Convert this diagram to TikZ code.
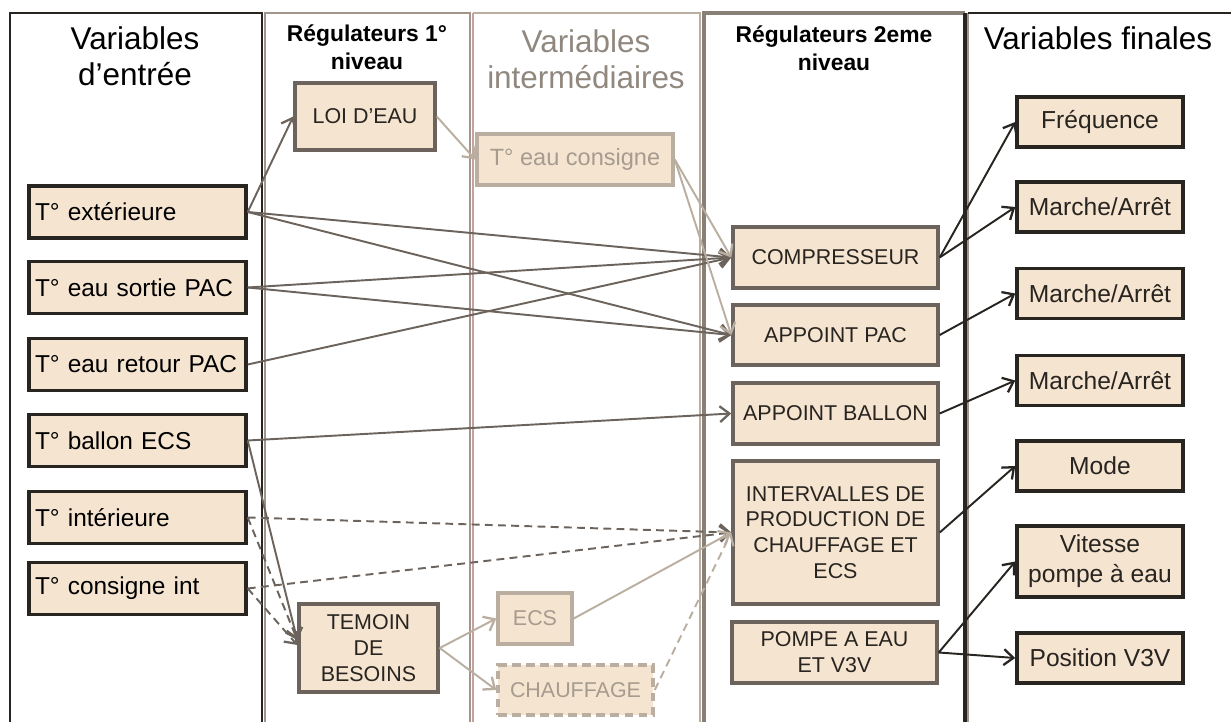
\documentclass[tikz,border=0pt]{standalone}
\usepackage{fontspec}
\setmainfont{Liberation Sans}
\usetikzlibrary{calc}
\usetikzlibrary{arrows.meta}

\definecolor{peach}{RGB}{245,228,208}
\definecolor{dark}{RGB}{40,36,32}
\definecolor{mid}{RGB}{108,100,92}
\definecolor{tan}{RGB}{186,174,160}
\definecolor{tantext}{RGB}{165,155,143}
\definecolor{colgray}{RGB}{160,150,140}
\definecolor{pinkline}{RGB}{200,160,160}

\begin{document}
\begin{tikzpicture}[x=0.02cm, y=-0.02cm,
	>={Straight Barb[length=5.5pt,width=9pt,line width=1.3pt]},
	bigtitle/.style={font=\fontsize{17.9}{21}\selectfont, align=center, anchor=base, inner sep=0pt},
	regtitle/.style={font=\bfseries\fontsize{13}{16}\selectfont, align=center, anchor=base, inner sep=0pt},
	inbox/.style={draw=dark, fill=peach, line width=2pt, minimum height=1.04cm, text width=4.1cm, align=left, inner xsep=0.12cm, inner ysep=0pt, text=black, font=\fontsize{13.9}{16}\selectfont},
	regbox/.style={draw=mid, fill=peach, line width=2pt, align=center, inner sep=0pt, text=dark, font=\fontsize{12.2}{14.7}\selectfont},
	midbox/.style={draw=tan, fill=peach, line width=2pt, align=center, inner sep=0pt, text=tantext, font=\fontsize{12.2}{14.7}\selectfont},
	outbox/.style={draw=dark, fill=peach, line width=2pt, minimum width=3.32cm, minimum height=1cm, align=center, inner sep=0pt, text=dark, font=\fontsize{14}{17}\selectfont},
	link/.style={->, draw=mid, line width=1.1pt},
	lightlink/.style={->, draw=tan, line width=1.1pt},
	outlink/.style={->, draw=dark, line width=1.1pt},
	dashlink/.style={dash pattern=on 4.5pt off 3pt}
]
	\useasboundingbox (0,0) rectangle (1231,722);

	% columns
	\draw[dark, line width=1.3pt] (10,730) -- (10,13) -- (262,13) -- (262,730);
	\draw[colgray, line width=1.3pt] (265,730) -- (265,13) -- (470,13) -- (470,730);
	\draw[pinkline, line width=1pt] (473,730) -- (473,13);
	\draw[tan, line width=1.5pt] (473,13) -- (700,13) -- (700,730);
	\draw[colgray!85!black, line width=1.8pt] (704,730) -- (704,13) -- (965,13);
	\draw[dark, line width=1.8pt] (965,13) -- (965,730);
	\draw[colgray, line width=1.5pt] (968,730) -- (968,13);
	\draw[dark, line width=1.3pt] (968,13) -- (1240,13);

	\node[bigtitle] (tin) at (135,86) {Variables\\d’entrée};
	\node[regtitle] (treg1) at (367,70) {Régulateurs 1°\\niveau};
	\node[bigtitle, text=colgray!90!black] (tmid) at (586,89) {Variables\\intermédiaires};
	\node[regtitle] (treg2) at (834,71) {Régulateurs 2eme\\niveau};
	\node[bigtitle] (tout) at (1098,50) {Variables finales};

	% entrees
	\node[inbox] (ext) at (137.5,212) {T° extérieure};
	\node[inbox] (sortie) at (137.5,287.5) {T° eau sortie PAC};
	\node[inbox] (retour) at (137.5,364.5) {T° eau retour PAC};
	\node[inbox] (ballon) at (137.5,440.5) {T° ballon ECS};
	\node[inbox] (inter) at (137.5,517.5) {T° intérieure};
	\node[inbox] (cons) at (137.5,588.5) {T° consigne int};

	% regulateurs 1
	\node[regbox, minimum width=2.8cm, minimum height=1.34cm] (loi) at (365,116.5) {LOI D’EAU};
	\node[regbox, minimum width=2.78cm, minimum height=1.76cm] (temoin) at (368.5,648) {TEMOIN\\DE\\BESOINS};

	% intermediaires
	\node[midbox, minimum width=3.92cm, minimum height=1.02cm, font=\fontsize{13.4}{16}\selectfont] (tcons) at (575,159.5) {T° eau consigne};
	\node[midbox, minimum width=1.48cm, minimum height=1.02cm] (ecs) at (535,618.5) {ECS};
	\node[midbox, dash pattern=on 5pt off 3pt, minimum width=3.1cm, minimum height=1cm] (chauf) at (575.5,690) {CHAUFFAGE};

	% regulateurs 2
	\node[regbox, minimum width=4.1cm, minimum height=1.22cm] (comp) at (835.5,257.5) {COMPRESSEUR};
	\node[regbox, minimum width=4.1cm, minimum height=1.2cm] (apac) at (835.5,335) {APPOINT PAC};
	\node[regbox, minimum width=4.1cm, minimum height=1.22cm] (aball) at (835.5,413.5) {APPOINT BALLON};
	\node[regbox, minimum width=4.1cm, minimum height=2.86cm] (interv) at (835.5,532.5) {INTERVALLES DE\\PRODUCTION DE\\CHAUFFAGE ET\\ECS};
	\node[regbox, minimum width=4.1cm, minimum height=1.22cm] (pompe) at (834.5,652.5) {POMPE A EAU\\ET V3V};

	% finales
	\node[outbox] (freq) at (1100,122) {Fréquence};
	\node[outbox] (ma1) at (1100,207) {Marche/Arrêt};
	\node[outbox] (ma2) at (1100,293.5) {Marche/Arrêt};
	\node[outbox] (ma3) at (1100,380.5) {Marche/Arrêt};
	\node[outbox] (mode) at (1100,466) {Mode};
	\node[outbox, minimum height=1.42cm] (vit) at (1100,561.5) {Vitesse\\pompe à eau};
	\node[outbox] (pos) at (1100,658) {Position V3V};

	\draw[link] (ext.east) -- (loi.west);
	\draw[link] (ext.east) -- (comp.west);
	\draw[link] (ext.east) -- (apac.west);
	\draw[link] (sortie.east) -- (comp.west);
	\draw[link] (sortie.east) -- (apac.west);
	\draw[link] (retour.east) -- (comp.west);
	\draw[link] (ballon.east) -- (aball.west);
	\draw[link] (ballon.east) -- ([yshift=0.16cm]temoin.west);
	\draw[link, dashlink] (inter.east) -- (interv.west);
	\draw[link, dashlink] (inter.east) -- ([yshift=0.16cm]temoin.west);
	\draw[link, dashlink] (cons.east) -- (interv.west);
	\draw[link, dashlink] (cons.east) -- ([yshift=0.06cm]temoin.west);

	\draw[lightlink] (loi.east) -- (tcons.west);
	\draw[lightlink] (tcons.east) -- (comp.west);
	\draw[lightlink] (tcons.east) -- (apac.west);
	\draw[lightlink] (temoin.east) -- (ecs.west);
	\draw[lightlink] (temoin.east) -- (chauf.west);
	\draw[lightlink] (ecs.east) -- (interv.west);
	\draw[lightlink, dashlink] (chauf.east) -- (interv.west);

	\draw[outlink] (comp.east) -- (freq.west);
	\draw[outlink] (comp.east) -- (ma1.west);
	\draw[outlink] (apac.east) -- (ma2.west);
	\draw[outlink] (aball.east) -- (ma3.west);
	\draw[outlink] (interv.east) -- (mode.west);
	\draw[outlink] (pompe.east) -- (vit.west);
	\draw[outlink] (pompe.east) -- (pos.west);
\end{tikzpicture}
\end{document}
